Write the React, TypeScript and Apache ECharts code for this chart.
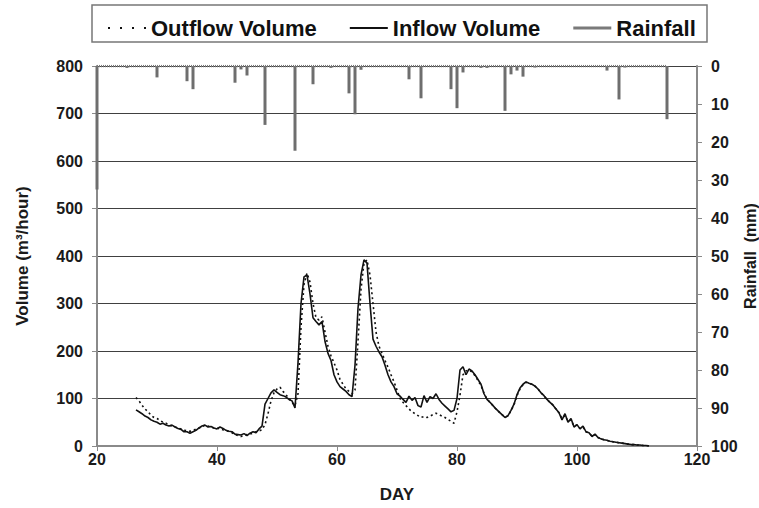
import React, { useEffect, useRef } from "react";
import * as echarts from "echarts";

// Flow series: one value every half day, starting at day 26.5
const FLOW_START_DAY = 26.5;
const FLOW_STEP = 0.5;

const inflowVolume = [
  76, 72, 68, 63, 60, 55, 52, 50, 46, 48,
  44, 42, 44, 40, 37, 35, 30, 30, 27, 30,
  33, 38, 42, 44, 40, 41, 38, 36, 40, 37,
  33, 31, 30, 25, 24, 23, 26, 22, 27, 30,
  28, 36, 42, 88, 100, 112, 118, 113, 108, 106,
  103, 98, 95, 80, 175, 300, 356, 360, 320, 270,
  262, 255, 262, 220, 195, 180, 150, 135, 125, 120,
  115, 108, 104, 170, 290, 360, 392, 385, 300, 225,
  210, 198, 188, 170, 150, 135, 125, 110, 105, 98,
  92, 105, 96, 102, 85, 82, 106, 92, 104, 100,
  110, 98, 90, 84, 78, 72, 75, 100, 160, 167,
  150, 162, 158, 150, 140, 130, 110, 98, 92, 85,
  78, 72, 66, 60, 64, 75, 88, 108, 122, 130,
  135, 132, 130, 126, 120, 112, 106, 98, 92, 86,
  78, 70, 55, 68, 50, 58, 40, 45, 36, 42,
  30, 28, 20, 25, 18, 15, 13, 12, 10, 9,
  8, 7, 6, 5, 4, 3, 3, 2, 2, 1,
  1, 0,
];

const outflowVolume = [
  102, 95, 86, 78, 72, 65, 60, 58, 54, 50,
  48, 44, 42, 40, 38, 36, 33, 32, 31, 32,
  36, 38, 40, 44, 42, 40, 38, 38, 36, 34,
  33, 30, 28, 24, 22, 20, 22, 24, 25, 27,
  30, 32, 34, 45, 68, 95, 112, 120, 124, 115,
  108, 100, 92, 85, 110, 250, 340, 364, 345, 300,
  270, 265, 272, 240, 210, 190, 175, 160, 140, 130,
  120, 115, 110, 118, 220, 330, 385, 392, 360, 300,
  240, 210, 195, 180, 166, 150, 135, 118, 100, 92,
  85, 78, 72, 68, 64, 60, 62, 60, 63, 66,
  69, 66, 63, 60, 56, 52, 48, 72, 107, 150,
  158, 160, 156, 148, 138, 127, 111, 99, 92, 85,
  78, 72, 66, 61, 63, 74, 87, 106, 120, 129,
  134, 132, 130, 126, 120, 112, 106, 98, 92, 86,
  78, 70, 58, 64, 52, 55, 42, 44, 37, 40,
  30, 27, 21, 24, 18, 15, 13, 12, 10, 9,
  8, 7, 6, 5, 4, 3, 3, 2, 2, 1,
  1, 0,
];

const rainDays = [20, 25, 30, 35, 36, 43, 44, 45, 48, 53, 56, 59, 62, 63, 64, 72, 74, 79, 80, 81, 84, 85, 88, 89, 90, 91, 93, 105, 107, 108, 115];
const rainValues = [32.5, 0.5, 3.0, 4.0, 6.1, 4.4, 0.9, 2.5, 15.5, 22.3, 4.8, 0.5, 7.2, 12.7, 1.0, 3.5, 8.5, 6.1, 11.1, 1.7, 0.5, 0.5, 11.8, 2.2, 1.2, 2.8, 0.4, 1.2, 8.8, 0.4, 14.0];

const volumeTicks = { min: 0, max: 800, interval: 100 };
const rainTicks = { min: 0, max: 100, interval: 10 };
const dayTicks = { min: 20, max: 120, interval: 20 };

const FONT = "'Liberation Sans', Arial, sans-serif";

export default function App() {
  const ref = useRef<HTMLDivElement>(null);

  useEffect(() => {
    if (!ref.current) return;
    const chart = echarts.init(ref.current, null, { renderer: "svg" });

    const toPairs = (vals: number[]) =>
      vals.map((v, i) => [FLOW_START_DAY + i * FLOW_STEP, v]);

    const axisLabel = { fontFamily: FONT, fontWeight: 900, fontSize: 16, color: "#1a1a1a" };
    const axisName = { fontFamily: FONT, fontWeight: 900, fontSize: 17, color: "#1a1a1a" };
    const axisLine = { show: true, lineStyle: { color: "#8a8a8a", width: 2 } };
    const axisTick = { show: true, length: 5, lineStyle: { color: "#8a8a8a", width: 1 } };

    chart.setOption({
      animation: false,
      backgroundColor: "#ffffff",
      grid: { left: 97, right: 62, top: 66, bottom: 62, containLabel: false, outerBoundsMode: "none" },
      graphic: [
        {
          type: "rect",
          silent: true,
          shape: { x: 92, y: 5, width: 615, height: 37 },
          style: { fill: "none", stroke: "#777", lineWidth: 1.5 },
        },
      ],
      legend: {
        left: 103,
        top: 12,
        itemGap: 33,
        itemWidth: 38,
        itemHeight: 12,
        selectedMode: false,
        textStyle: { fontFamily: FONT, fontWeight: "bold", fontSize: 22, color: "#111" },
        data: [
          {
            name: "Outflow Volume",
            icon: "path://M0,0h2v2h-2z M12,0h2v2h-2z M24,0h2v2h-2z M36,0h2v2h-2z",
            itemStyle: { color: "#111" },
          },
          { name: "Inflow Volume", icon: "path://M0,0H38V2H0Z", itemStyle: { color: "#111" } },
          { name: "Rainfall", icon: "path://M0,0H40V3H0Z", itemStyle: { color: "#7a7a7a" } },
        ],
      },
      xAxis: {
        type: "value",
        ...dayTicks,
        name: "DAY",
        nameLocation: "middle",
        nameGap: 40,
        nameTextStyle: axisName,
        axisLine,
        axisTick,
        axisLabel: { ...axisLabel, margin: 5 },
        splitLine: { show: false },
      },
      yAxis: [
        {
          type: "value",
          ...volumeTicks,
          name: "Volume (m³/hour)",
          nameLocation: "middle",
          nameGap: 66,
          nameRotate: 90,
          nameTextStyle: axisName,
          axisLine,
          axisTick,
          axisLabel: { ...axisLabel, margin: 14 },
          splitLine: { show: true, lineStyle: { color: "#404040", width: 1 } },
        },
        {
          type: "value",
          ...rainTicks,
          inverse: true,
          position: "right",
          name: "Rainfall  (mm)",
          nameLocation: "middle",
          nameGap: 45,
          nameRotate: 90,
          nameMoveOverlap: false,
          nameTextStyle: { ...axisName, fontSize: 16 },
          axisLine,
          axisTick,
          axisLabel: { ...axisLabel, margin: 14 },
          splitLine: { show: false },
        },
      ],
      series: [
        {
          name: "Rainfall baseline",
          type: "line",
          yAxisIndex: 1,
          data: [[rainDays[0], 0], [rainDays[rainDays.length - 1], 0]],
          showSymbol: false,
          symbol: "none",
          silent: true,
          lineStyle: { color: "#7a7a7a", width: 2.5, type: [1, 1] },
          z: 3,
        },
        {
          name: "Rainfall",
          type: "bar",
          yAxisIndex: 1,
          barWidth: 3,
          data: rainDays.map((d, i) => [d, rainValues[i]]),
          itemStyle: { color: "#6e6e6e" },
          z: 3,
        },
        {
          name: "Outflow Volume",
          type: "line",
          data: toPairs(outflowVolume),
          showSymbol: false,
          symbol: "none",
          itemStyle: { color: "#111" },
          lineStyle: { color: "#111", width: 1.6, type: [2, 3] },
          z: 4,
        },
        {
          name: "Inflow Volume",
          type: "line",
          data: toPairs(inflowVolume),
          showSymbol: false,
          symbol: "none",
          itemStyle: { color: "#111" },
          lineStyle: { color: "#111", width: 1.6, type: "solid" },
          z: 5,
        },
      ],
    });

    return () => chart.dispose();
  }, []);

  return <div ref={ref} style={{ width: 759, height: 508, position: "absolute", left: 0, top: 0 }} />;
}
